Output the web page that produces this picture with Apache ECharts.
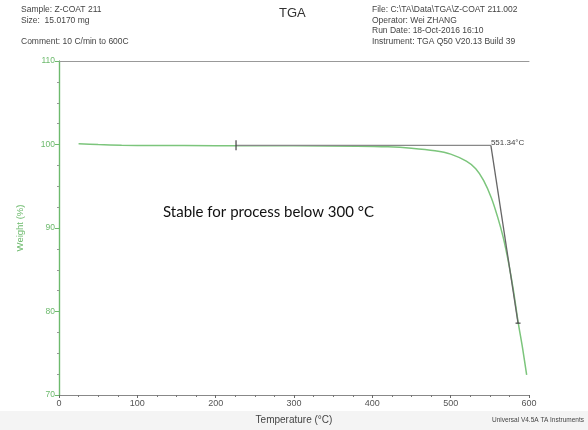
<!DOCTYPE html>
<html><head><meta charset="utf-8">
<script src="https://cdn.jsdelivr.net/npm/echarts@6/dist/echarts.min.js"></script>
<style>html,body{margin:0;padding:0;background:#fff}#c{width:588px;height:430px}</style>
</head><body><div id="c"></div>
<script>
// Temperature (°C) and Weight (%)
const temps   = [25, 50, 80, 120, 200, 300, 380, 420, 450, 480, 500, 520, 532, 542, 552, 560, 567, 574, 580, 586, 592, 597];
const weights = [100.1, 100.0, 99.92, 99.88, 99.86, 99.84, 99.8, 99.72, 99.55, 99.25, 98.85, 98.0, 97.1, 95.7, 93.6, 91.3, 88.9, 85.8, 82.6, 78.8, 75.5, 72.4];
// Onset construction
const baseline = [[226, 99.9], [551.34, 99.9]];
const tangent  = [[551.34, 99.9], [586, 78.6]];
const onsetLabel = '551.34°C';
const xTicks = [0, 100, 200, 300, 400, 500, 600];
const yTicks = [70, 80, 90, 100, 110];

const green = '#6dba6d';
const chart = echarts.init(document.getElementById('c'), null, {renderer: 'canvas'});
const hdr = {fontFamily: 'Liberation Sans', fontSize: 8.5, fill: '#444'};
chart.setOption({
  animation: false,
  backgroundColor: '#fff',
  grid: {left: 59, right: 59, top: 61, bottom: 33},
  xAxis: [{
    type: 'value', min: 0, max: 600, interval: 100,
    name: 'Temperature (°C)', nameLocation: 'middle', nameGap: 20,
    nameTextStyle: {fontFamily: 'Liberation Sans', fontSize: 10, color: '#444'},
    axisLine: {lineStyle: {color: '#888', width: 1}},
    axisTick: {length: 3, inside: false, lineStyle: {color: '#666'}},
    minorTick: {show: true, splitNumber: 4, length: 2, lineStyle: {color: '#777'}},
    axisLabel: {fontFamily: 'Liberation Sans', fontSize: 9, color: '#555', margin: 4,
      formatter: v => xTicks.includes(v) ? String(v) : ''},
    splitLine: {show: false}
  }, {
    type: 'value', min: 0, max: 600, position: 'top',
    axisLine: {show: true, lineStyle: {color: '#999', width: 1}},
    axisTick: {show: false}, axisLabel: {show: false}, splitLine: {show: false}
  }],
  yAxis: [{
    type: 'value', min: 70, max: 110, interval: 10,
    name: 'Weight (%)', nameLocation: 'middle', nameGap: 34, nameRotate: 90,
    nameTextStyle: {fontFamily: 'Liberation Sans', fontSize: 9.5, color: green},
    axisLine: {show: true, lineStyle: {color: green, width: 1.2}},
    axisTick: {show: true, length: 4, lineStyle: {color: green}},
    minorTick: {show: true, splitNumber: 4, length: 2, lineStyle: {color: '#999'}},
    axisLabel: {fontFamily: 'Liberation Sans', fontSize: 8.5, color: green, margin: 4,
      formatter: v => yTicks.includes(v) ? String(v) : ''},
    splitLine: {show: false}
  }, {
    type: 'value', min: 70, max: 110, position: 'right',
    axisLine: {show: true, lineStyle: {color: green, width: 1.2}},
    axisTick: {show: false}, axisLabel: {show: false}, splitLine: {show: false}
  }],
  series: [{
    type: 'line', data: temps.map((t, i) => [t, weights[i]]),
    smooth: 0.3, showSymbol: false, lineStyle: {color: '#7cc57c', width: 1.5}, z: 3
  }, {
    type: 'line', data: baseline, showSymbol: false,
    lineStyle: {color: '#888', width: 1.3}, z: 4
  }, {
    type: 'line', data: tangent, showSymbol: false,
    lineStyle: {color: '#666', width: 1.3}, z: 4,
    markPoint: {
      symbol: 'circle', symbolSize: 0,
      label: {show: true, position: 'right', distance: 0, offset: [0, -3], formatter: onsetLabel,
        fontFamily: 'Liberation Sans', fontSize: 8, color: '#444'},
      data: [{coord: tangent[0]}]
    }
  }, {
    type: 'scatter', data: [baseline[0]], symbol: 'rect', symbolSize: [1.5, 10],
    itemStyle: {color: '#444'}, z: 5, silent: true
  }, {
    type: 'scatter', data: [tangent[1]], symbol: 'rect', symbolSize: [5, 1.5], symbolRotate: 0,
    itemStyle: {color: '#444'}, z: 5, silent: true
  }],
  graphic: [
    {type: 'rect', left: 0, top: 411, shape: {width: 588, height: 19}, style: {fill: '#f4f4f4'}, z: -10},
    {type: 'text', left: 21, top: 5, style: Object.assign({text: 'Sample: Z-COAT 211'}, hdr)},
    {type: 'text', left: 21, top: 16, style: Object.assign({text: 'Size:  15.0170 mg'}, hdr)},
    {type: 'text', left: 21, top: 37, style: Object.assign({text: 'Comment: 10 C/min to 600C'}, hdr)},
    {type: 'text', left: 279, top: 7, style: {text: 'TGA', fontFamily: 'Liberation Sans', fontSize: 13, fill: '#333'}},
    {type: 'text', left: 372, top: 5, style: Object.assign({text: 'File: C:\\TA\\Data\\TGA\\Z-COAT 211.002'}, hdr)},
    {type: 'text', left: 372, top: 16, style: Object.assign({text: 'Operator: Wei ZHANG'}, hdr)},
    {type: 'text', left: 372, top: 26, style: Object.assign({text: 'Run Date: 18-Oct-2016 16:10'}, hdr)},
    {type: 'text', left: 372, top: 37, style: Object.assign({text: 'Instrument: TGA Q50 V20.13 Build 39'}, hdr)},
    {type: 'text', left: 163, top: 205, style: {text: 'Stable for process below 300 °C', fontFamily: 'Lato', fontSize: 15, fill: '#111'}},
    {type: 'text', right: 4, top: 417, style: {text: 'Universal V4.5A TA Instruments', fontFamily: 'Liberation Sans', fontSize: 6.5, fill: '#444'}}
  ]
});
</script></body></html>
